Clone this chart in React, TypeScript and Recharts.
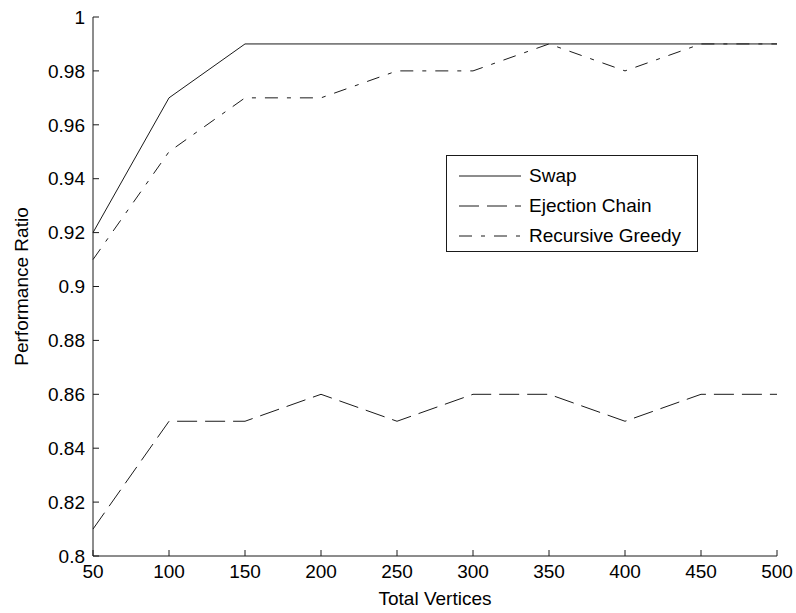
import React from 'react';
import { LineChart, Line, XAxis, YAxis, Legend } from 'recharts';

const vertices = [50, 100, 150, 200, 250, 300, 350, 400, 450, 500];
const swap = [0.92, 0.97, 0.99, 0.99, 0.99, 0.99, 0.99, 0.99, 0.99, 0.99];
const ejectionChain = [0.81, 0.85, 0.85, 0.86, 0.85, 0.86, 0.86, 0.85, 0.86, 0.86];
const recursiveGreedy = [0.91, 0.95, 0.97, 0.97, 0.98, 0.98, 0.99, 0.98, 0.99, 0.99];

const xTicks = [50, 100, 150, 200, 250, 300, 350, 400, 450, 500];
const yTicks = [0.8, 0.82, 0.84, 0.86, 0.88, 0.9, 0.92, 0.94, 0.96, 0.98, 1];

const series = [
  { key: 'swap', name: 'Swap', dash: undefined as string | undefined },
  { key: 'ejection', name: 'Ejection Chain', dash: '20 8' },
  { key: 'greedy', name: 'Recursive Greedy', dash: '13 9 4 9' },
];

const data = vertices.map((v, i) => ({
  v,
  swap: swap[i],
  ejection: ejectionChain[i],
  greedy: recursiveGreedy[i],
}));

const FONT = 'Arial, "Liberation Sans", sans-serif';
const INK = '#1a1a1a';
const tickStyle = { fill: '#000', fontSize: 19, fontFamily: FONT };

const fmtY = (v: number) => String(Number(v.toFixed(2)));

const LegendBox = () => (
  <div
    style={{
      width: 252,
      height: 97,
      boxSizing: 'border-box',
      border: `1px solid ${INK}`,
      background: '#fff',
      fontFamily: FONT,
      fontSize: 19,
      color: '#000',
      position: 'relative',
    }}
  >
    {series.map((s, i) => (
      <div
        key={s.key}
        style={{ position: 'absolute', left: 0, top: 20 + i * 30 - 15, height: 30, display: 'flex', alignItems: 'center' }}
      >
        <svg width={82} height={30} style={{ display: 'block' }}>
          <line x1={12} x2={74} y1={15} y2={15} stroke={INK} strokeWidth={1} strokeDasharray={s.dash} />
        </svg>
        <span style={{ whiteSpace: 'nowrap' }}>{s.name}</span>
      </div>
    ))}
  </div>
);

export default function App() {
  return (
    <div style={{ position: 'absolute', left: 0, top: 0, width: 796, height: 613, background: '#fff' }}>
      <LineChart width={796} height={613} data={data} margin={{ top: 17, right: 19, bottom: 0, left: 0 }}>
        <XAxis
          dataKey="v"
          type="number"
          domain={[50, 500]}
          ticks={xTicks}
          height={57}
          tickSize={-6}
          tickMargin={15}
          stroke={INK}
          tick={tickStyle}
          label={{ value: 'Total Vertices', position: 'insideBottom', offset: 8, style: { fill: '#000', fontSize: 19, fontFamily: FONT } }}
        />
        <XAxis
          xAxisId="top"
          orientation="top"
          dataKey="v"
          type="number"
          domain={[50, 500]}
          ticks={xTicks}
          height={0}
          tickSize={-6}
          tick={false}
          stroke={INK}
        />
        <YAxis
          type="number"
          domain={[0.8, 1]}
          ticks={yTicks}
          width={93}
          tickSize={-6}
          tickMargin={14}
          tickFormatter={fmtY}
          stroke={INK}
          tick={tickStyle}
          label={{ value: 'Performance Ratio', angle: -90, position: 'insideLeft', offset: 21, style: { textAnchor: 'middle', fill: '#000', fontSize: 19, fontFamily: FONT } }}
        />
        <YAxis
          yAxisId="right"
          orientation="right"
          type="number"
          domain={[0.8, 1]}
          ticks={yTicks}
          width={0}
          tickSize={-6}
          tick={false}
          stroke={INK}
        />
        {series.map((s) => (
          <Line
            key={s.key}
            dataKey={s.key}
            name={s.name}
            type="linear"
            stroke={INK}
            strokeWidth={1}
            strokeDasharray={s.dash}
            dot={false}
            activeDot={false}
            isAnimationActive={false}
          />
        ))}
        <Legend
          layout="vertical"
          align="center"
          verticalAlign="middle"
          content={<LegendBox />}
          wrapperStyle={{ position: 'absolute', left: 446, top: 155, width: 252, height: 97 }}
        />
      </LineChart>
    </div>
  );
}
